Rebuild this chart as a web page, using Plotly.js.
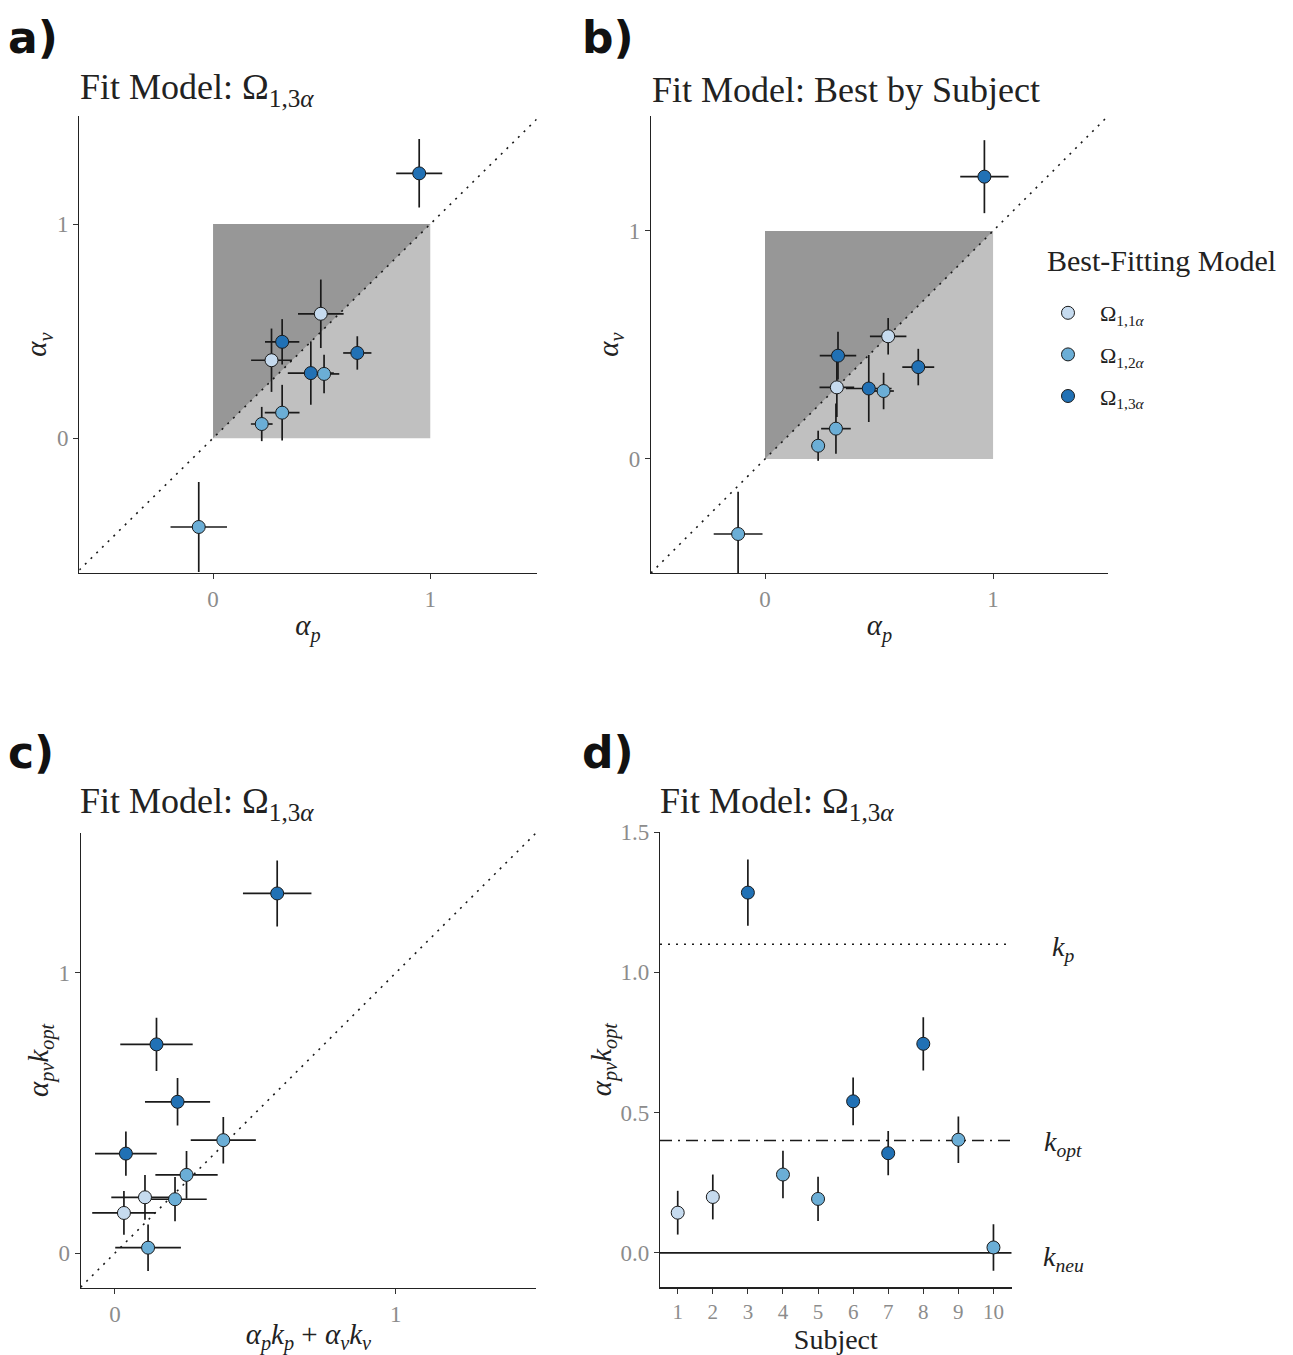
<!DOCTYPE html>
<html>
<head>
<meta charset="utf-8">
<script src="https://cdn.plot.ly/plotly-3.0.1.min.js"></script>
<style>html,body{margin:0;padding:0;background:#fff;}</style>
</head>
<body>
<div id="chart" style="width:1293px;height:1355px;"></div>
<script>
// ---------------- DATA ----------------
const modelNames = ["Ω<sub>1,1<i>α</i></sub>", "Ω<sub>1,2<i>α</i></sub>", "Ω<sub>1,3<i>α</i></sub>"];
const modelColors = ["#c6dbef", "#6baed6", "#2171b5"];
const legendTitle = "Best-Fitting Model";

// Panel a: fit model Omega_{1,3alpha}
const aAlphaP    = [0.949, 0.496, 0.318, 0.269, 0.450, 0.511, 0.664, 0.318, 0.224, -0.066];
const aAlphaPErr = [0.106, 0.105, 0.079, 0.094, 0.106, 0.070, 0.065, 0.080, 0.050, 0.130];
const aAlphaV    = [1.237, 0.581, 0.450, 0.364, 0.304, 0.300, 0.398, 0.119, 0.066, -0.415];
const aAlphaVErr = [0.160, 0.160, 0.106, 0.148, 0.148, 0.090, 0.078, 0.130, 0.080, 0.210];
const aModel     = [3, 1, 3, 1, 3, 2, 3, 2, 2, 2];

// Panel b: best model by subject
const bAlphaP    = [0.962, 0.540, 0.320, 0.672, 0.315, 0.455, 0.520, 0.311, 0.233, -0.118];
const bAlphaPErr = [0.106, 0.080, 0.080, 0.070, 0.076, 0.100, 0.045, 0.065, 0.030, 0.107];
const bAlphaV    = [1.238, 0.538, 0.453, 0.403, 0.314, 0.309, 0.298, 0.133, 0.058, -0.329];
const bAlphaVErr = [0.160, 0.080, 0.105, 0.080, 0.130, 0.147, 0.080, 0.110, 0.066, 0.185];
const bModel     = [3, 1, 3, 3, 1, 3, 2, 2, 2, 2];

// Panels c & d: per subject
const subjects     = [1, 2, 3, 4, 5, 6, 7, 8, 9, 10];
const subjModel    = [1, 1, 3, 2, 2, 3, 3, 3, 2, 2];
const predicted    = [0.032, 0.107, 0.578, 0.255, 0.214, 0.223, 0.039, 0.148, 0.386, 0.118];
const predictedErr = [0.113, 0.120, 0.122, 0.111, 0.113, 0.116, 0.110, 0.129, 0.116, 0.117];
const apvKopt      = [0.143, 0.199, 1.284, 0.279, 0.192, 0.540, 0.355, 0.745, 0.403, 0.019];
const apvKoptErr   = [0.078, 0.080, 0.118, 0.085, 0.079, 0.085, 0.079, 0.095, 0.083, 0.083];

// Reference levels (panel d)
const refNames  = ["<i>k<sub>p</sub></i>", "<i>k<sub>opt</sub></i>", "<i>k<sub>neu</sub></i>"];
const refValues = [1.1, 0.4, 0.0];
const refDash   = ["2px,6px", "12px,6px,2px,6px", "solid"];

// Shaded region bounds (panels a, b)
const regionLo = 0, regionHi = 1;

// ---------------- LAYOUT HELPERS ----------------
const W = 1293, H = 1355;
const px = v => v / W;
const py = v => 1 - v / H;
const SERIF = "Liberation Serif, DejaVu Serif, serif";
const ink = "#1a1a1a";

const ranges = {
  a: {x: [-0.616, 1.49], y: [-0.63, 1.505]},
  b: {x: [-0.5, 1.504], y: [-0.5, 1.504]},
  c: {x: [-0.122, 1.5], y: [-0.125, 1.501]},
  d: {x: [0.495, 10.52], y: [-0.123, 1.5]}
};

function axisBase(extra) {
  return Object.assign({
    showgrid: false, zeroline: false, showline: true, linecolor: "#222", linewidth: 1.2,
    ticks: "outside", ticklen: 5, tickcolor: "#333", tickwidth: 1,
    tickfont: {family: SERIF, size: 23, color: "#8c8c8c"},
    fixedrange: true
  }, extra);
}

const traces = [];
function addPanel(xs, xe, ys, ye, models, xa, ya, legend) {
  traces.push({
    type: "scatter", mode: "markers", x: xs, y: ys, xaxis: xa, yaxis: ya,
    marker: {size: 1, opacity: 0},
    error_x: xe ? {type: "data", array: xe, visible: true, color: ink, thickness: 1.7, width: 0} : {visible: false},
    error_y: {type: "data", array: ye, visible: true, color: ink, thickness: 1.7, width: 0},
    showlegend: false, hoverinfo: "skip", cliponaxis: true
  });
  for (let m = 1; m <= 3; m++) {
    const idx = models.map((v, i) => v === m ? i : -1).filter(i => i >= 0);
    traces.push({
      type: "scatter", mode: "markers",
      x: idx.map(i => xs[i]), y: idx.map(i => ys[i]), xaxis: xa, yaxis: ya,
      name: modelNames[m - 1], legendgroup: "m" + m,
      marker: {size: 13, color: modelColors[m - 1], line: {color: ink, width: 1}},
      showlegend: !!legend, cliponaxis: true
    });
  }
}

addPanel(aAlphaP, aAlphaPErr, aAlphaV, aAlphaVErr, aModel, "x", "y", false);
addPanel(bAlphaP, bAlphaPErr, bAlphaV, bAlphaVErr, bModel, "x2", "y2", true);
addPanel(predicted, predictedErr, apvKopt, apvKoptErr, subjModel, "x3", "y3", false);
addPanel(subjects, null, apvKopt, apvKoptErr, subjModel, "x4", "y4", false);

// ---------------- SHAPES ----------------
const shapes = [];
[["x", "y"], ["x2", "y2"]].forEach(([xa, ya]) => {
  shapes.push({type: "rect", xref: xa, yref: ya, x0: regionLo, x1: regionHi, y0: regionLo, y1: regionHi,
               fillcolor: "#c0c0c0", line: {width: 0}, layer: "below"});
  shapes.push({type: "path", xref: xa, yref: ya,
               path: `M ${regionLo} ${regionLo} L ${regionLo} ${regionHi} L ${regionHi} ${regionHi} Z`,
               fillcolor: "#979797", line: {width: 0}, layer: "below"});
});
[["x", "y", ranges.a], ["x2", "y2", ranges.b], ["x3", "y3", ranges.c]].forEach(([xa, ya, r]) => {
  const lo = Math.max(r.x[0], r.y[0]), hi = Math.min(r.x[1], r.y[1]);
  shapes.push({type: "line", xref: xa, yref: ya, x0: lo, y0: lo, x1: hi, y1: hi,
               line: {color: ink, width: 1.6, dash: "2px,6px"}, layer: "below"});
});
refValues.forEach((v, i) => {
  shapes.push({type: "line", xref: "x4", yref: "y4", x0: ranges.d.x[0], x1: ranges.d.x[1], y0: v, y1: v,
               line: {color: ink, width: i === 2 ? 1.8 : 1.5, dash: refDash[i]}, layer: "below"});
});

// ---------------- ANNOTATIONS ----------------
const ann = [];
function label(text, x, y, size) {
  ann.push({text: "<b>" + text + "</b>", xref: "paper", yref: "paper", x: px(x), y: py(y),
            xanchor: "left", yanchor: "middle", showarrow: false,
            font: {family: "DejaVu Sans, sans-serif", size: size, color: "#111"}});
}
label("a)", 6, 38, 44); label("b)", 580, 38, 44); label("c)", 6, 752, 44); label("d)", 580, 752, 44);

function title(text, x, y) {
  ann.push({text: text, xref: "paper", yref: "paper", x: px(x), y: py(y), xanchor: "left", yanchor: "middle",
            showarrow: false, font: {family: SERIF, size: 36, color: "#222"}});
}
const t13 = "Fit Model: Ω<sub>1,3<i>α</i></sub>";
title(t13, 78, 90); title("Fit Model: Best by Subject", 650, 90); title(t13, 78, 804); title(t13, 658, 804);

// legend title
ann.push({text: legendTitle, xref: "paper", yref: "paper", x: px(1045), y: py(260), xanchor: "left", yanchor: "middle",
          showarrow: false, font: {family: SERIF, size: 30, color: "#222"}});

const refY = [948, 1143, 1258];
refNames.forEach((t, i) => {
  ann.push({text: t, xref: "paper", yref: "paper", x: px(1063), y: py(refY[i]), xanchor: "center", yanchor: "middle",
            showarrow: false, font: {family: SERIF, size: 28, color: "#222"}});
});

const axTitleFont = {family: SERIF, size: 29, color: "#222"};
const aP = "<i>α<sub>p</sub></i>", aV = "<i>α<sub>v</sub></i>";
const apvk = "<i>α<sub>pv</sub>k<sub>opt</sub></i>";

const layout = {
  width: W, height: H, margin: {l: 0, r: 0, t: 0, b: 0},
  paper_bgcolor: "#fff", plot_bgcolor: "rgba(0,0,0,0)",
  showlegend: true,
  legend: {
    x: px(1036), y: py(292), xanchor: "left", yanchor: "top",
    font: {family: SERIF, size: 22, color: "#222"},
    tracegroupgap: 10, itemwidth: 54, bgcolor: "rgba(0,0,0,0)"
  },
  xaxis: axisBase({domain: [px(79.3), px(536.7)], range: ranges.a.x, anchor: "y", tickvals: [0, 1],
                   title: {text: aP, font: axTitleFont, standoff: 4}}),
  yaxis: axisBase({domain: [py(573), py(116)], range: ranges.a.y, anchor: "x", tickvals: [0, 1],
                   title: {text: aV, font: axTitleFont, standoff: 1}}),
  xaxis2: axisBase({domain: [px(651), px(1108)], range: ranges.b.x, anchor: "y2", tickvals: [0, 1],
                    title: {text: aP, font: axTitleFont, standoff: 4}}),
  yaxis2: axisBase({domain: [py(573), py(116)], range: ranges.b.y, anchor: "x2", tickvals: [0, 1],
                    title: {text: aV, font: axTitleFont, standoff: 1}}),
  xaxis3: axisBase({domain: [px(80.7), px(536)], range: ranges.c.x, anchor: "y3", tickvals: [0, 1],
                    title: {text: "<i>α<sub>p</sub>k<sub>p</sub></i> + <i>α<sub>v</sub>k<sub>v</sub></i>", font: axTitleFont, standoff: 0}}),
  yaxis3: axisBase({domain: [py(1288), py(832.7)], range: ranges.c.y, anchor: "x3", tickvals: [0, 1],
                    title: {text: apvk, font: axTitleFont, standoff: 1}}),
  xaxis4: axisBase({domain: [px(660), px(1011.7)], range: ranges.d.x, anchor: "y4", tickvals: subjects,
                    tickfont: {family: SERIF, size: 21, color: "#8c8c8c"},
                    title: {text: "Subject", font: {family: SERIF, size: 28, color: "#222"}, standoff: 4}}),
  yaxis4: axisBase({domain: [py(1287.3), py(832)], range: ranges.d.y, anchor: "x4", tickvals: [0, 0.5, 1, 1.5],
                    tickformat: ".1f", title: {text: apvk, font: axTitleFont, standoff: 0}}),
  shapes: shapes,
  annotations: ann
};

Plotly.newPlot("chart", traces, layout, {displayModeBar: false, staticPlot: true});
</script>
</body>
</html>
